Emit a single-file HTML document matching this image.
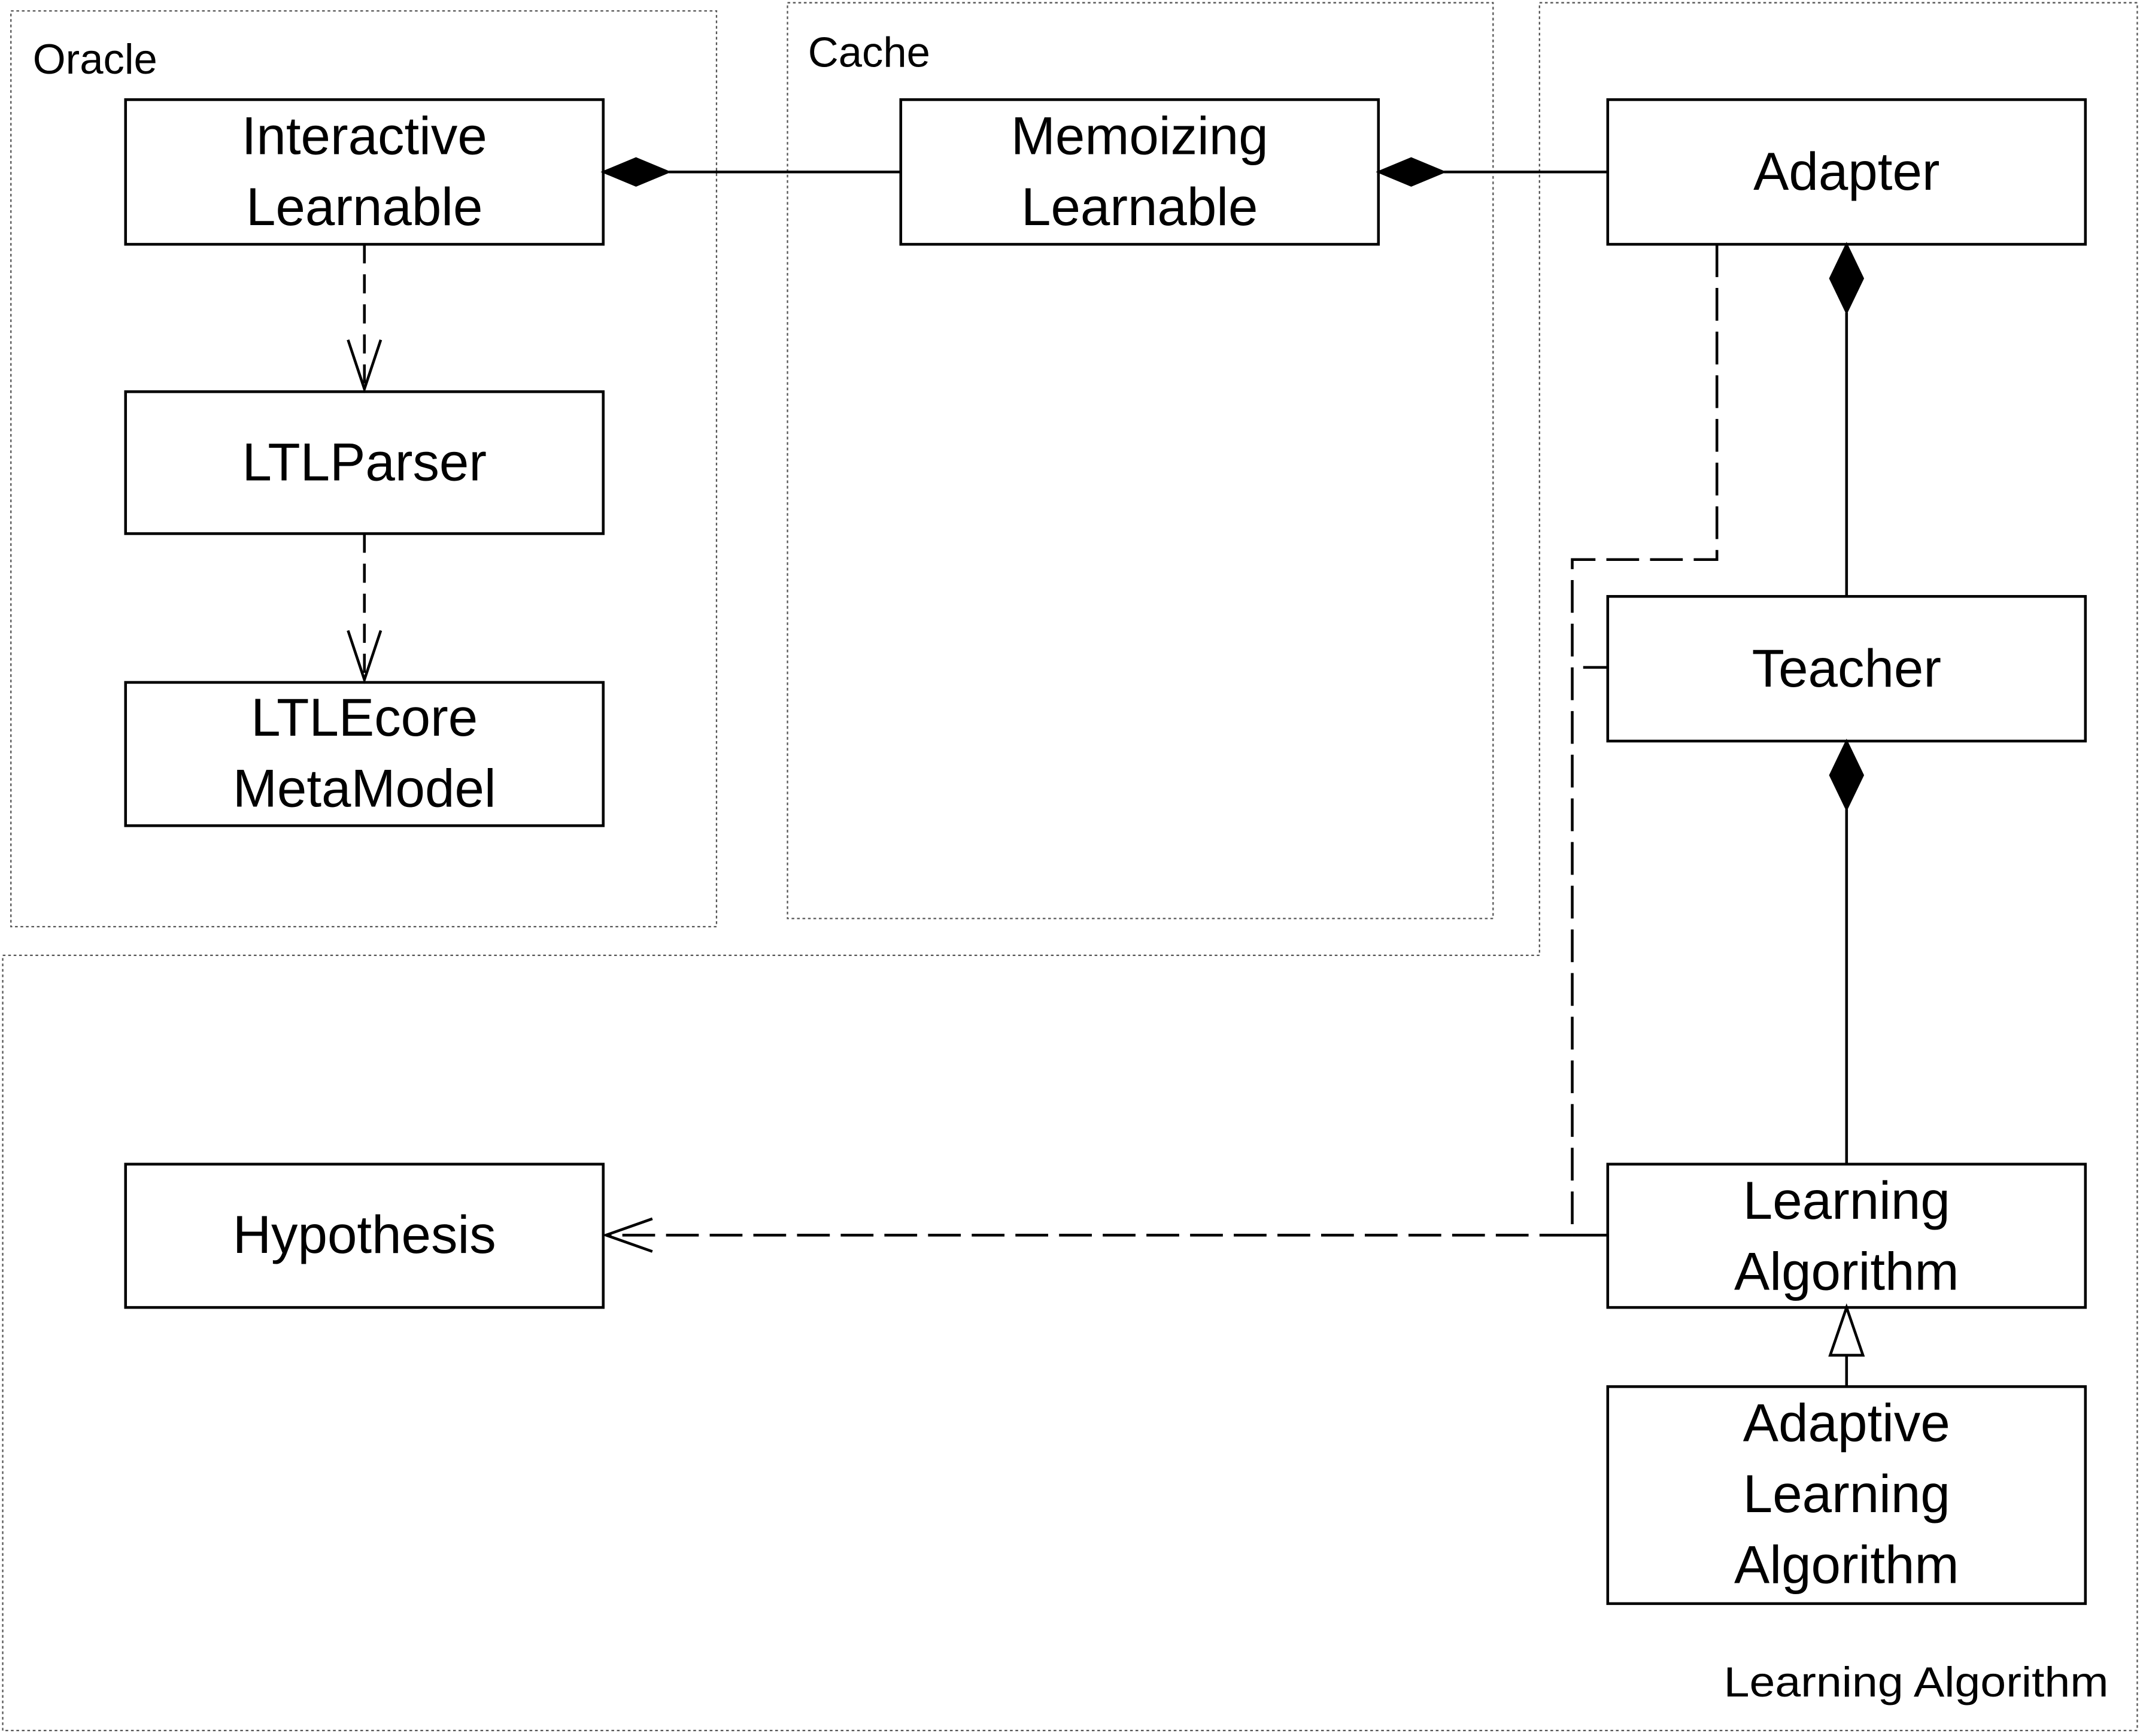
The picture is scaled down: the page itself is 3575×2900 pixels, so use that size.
<!DOCTYPE html>
<html><head><meta charset="utf-8"><style>
html,body{margin:0;padding:0;background:#fff;}
svg{display:block;}
text{font-family:"Liberation Sans",sans-serif;fill:#000;}
</style></head><body>
<svg width="3575" height="2900" viewBox="0 0 1568 1272" preserveAspectRatio="none" xmlns="http://www.w3.org/2000/svg">
<g fill="none" stroke="#555" stroke-width="1" stroke-dasharray="2,2">
<rect x="8" y="8" width="517" height="671"/>
<rect x="577" y="2" width="517" height="671"/>
<path d="M1128,2 L1566,2 L1566,1268 L2,1268 L2,700 L1128,700 Z"/>
</g>
<g font-size="31">
<text x="24" y="54">Oracle</text>
<text x="592" y="49">Cache</text>
<text x="1263" y="1243" textLength="282" lengthAdjust="spacingAndGlyphs">Learning Algorithm</text>
</g>
<g fill="#fff" stroke="#000" stroke-width="2">
<rect x="92" y="73" width="350" height="106"/>
<rect x="92" y="287" width="350" height="104"/>
<rect x="92" y="500" width="350" height="105"/>
<rect x="660" y="73" width="350" height="106"/>
<rect x="1178" y="73" width="350" height="106"/>
<rect x="1178" y="437" width="350" height="106"/>
<rect x="1178" y="853" width="350" height="105"/>
<rect x="1178" y="1016" width="350" height="159"/>
<rect x="92" y="853" width="350" height="105"/>
</g>
<g font-size="39" text-anchor="middle">
<text x="267" y="113">Interactive</text><text x="267" y="165">Learnable</text>
<text x="267" y="352">LTLParser</text>
<text x="267" y="539">LTLEcore</text><text x="267" y="591">MetaModel</text>
<text x="835" y="113">Memoizing</text><text x="835" y="165">Learnable</text>
<text x="1353" y="139">Adapter</text>
<text x="1353" y="503">Teacher</text>
<text x="1353" y="893">Learning</text><text x="1353" y="945">Algorithm</text>
<text x="1353" y="1056">Adaptive</text><text x="1353" y="1108">Learning</text><text x="1353" y="1160">Algorithm</text>
<text x="267" y="918">Hypothesis</text>
</g>
<g stroke="#000" stroke-width="2" fill="none">
<line x1="490" y1="126" x2="660" y2="126"/>
<line x1="1058" y1="126" x2="1178" y2="126"/>
<line x1="1353" y1="229" x2="1353" y2="437"/>
<line x1="1353" y1="593" x2="1353" y2="853"/>
<line x1="1353" y1="993" x2="1353" y2="1016"/>
</g>
<g fill="#000" stroke="#000" stroke-width="1.5">
<polygon points="442,126 466,116 490,126 466,136"/>
<polygon points="1010,126 1034,116 1058,126 1034,136"/>
<polygon points="1353,179 1365,204 1353,229 1341,204"/>
<polygon points="1353,543 1365,568 1353,593 1341,568"/>
</g>
<polygon points="1353,958 1365,993 1341,993" fill="#fff" stroke="#000" stroke-width="2"/>
<g stroke="#000" stroke-width="2" fill="none">
<line x1="267" y1="179" x2="267" y2="285" stroke-dasharray="14,8"/>
<polyline points="255,249 267,285 279,249"/>
<line x1="267" y1="391" x2="267" y2="498" stroke-dasharray="14,8"/>
<polyline points="255,462 267,498 279,462"/>
<polyline points="1258,179 1258,410 1152,410 1152,905 444,905" stroke-dasharray="24,8"/>
<polyline points="478,893 444,905 478,917"/>
<line x1="1160" y1="489" x2="1178" y2="489"/>
<line x1="1152" y1="905" x2="1178" y2="905"/>
</g>
</svg>
</body></html>
